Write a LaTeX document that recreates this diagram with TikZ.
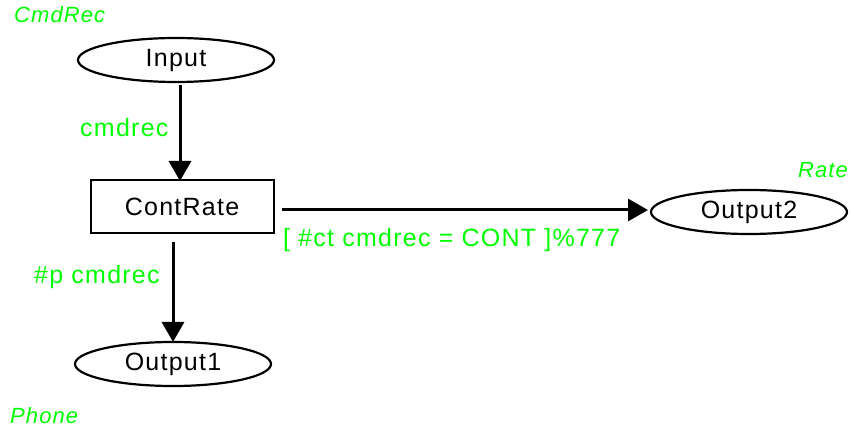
\documentclass[tikz,border=0pt]{standalone}
\usepackage{fontspec}
\setmainfont{Liberation Sans}[LetterSpace=5]
\usetikzlibrary{arrows.meta,shapes.geometric}
\definecolor{lbl}{RGB}{0,255,0}
\begin{document}
\begin{tikzpicture}[x=1pt,y=-1pt,
  place/.style={ellipse,draw,line width=2.2pt,minimum width=196pt,minimum height=44pt,inner sep=0pt,font=\fontsize{25}{28}\selectfont},
  trans/.style={rectangle,draw,line width=2pt,minimum width=183pt,minimum height=53pt,inner sep=0pt,font=\fontsize{25}{28}\selectfont},
  arc/.style={line width=3pt,-{Triangle[length=20pt,width=22pt]}},
  green/.style={text=lbl,font=\fontsize{25}{28}\selectfont,inner sep=0pt},
  ital/.style={text=lbl,font=\fontsize{22}{25}\selectfont\itshape,inner sep=0pt}]
\useasboundingbox (0,0) rectangle (854,430);
\node[place] (input) at (176,60) {Input};
\node[trans] (cont) at (182,207) {ContRate};
\node[place] (out2) at (749,212) {Output2};
\node[place] (out1) at (173,364) {Output1};
\node[ital,anchor=west] (cmdrecname) at (14,15) {CmdRec};
\node[ital,anchor=east] (ratename) at (848,170) {Rate};
\node[ital,anchor=west] (phonename) at (10,416) {Phone};
\coordinate (a1s) at (180,85);
\coordinate (a1e) at (180,181);
\coordinate (a2s) at (282,210);
\coordinate (a2e) at (648,210);
\coordinate (a3s) at (173,242);
\coordinate (a3e) at (173,342);
\draw[arc] (a1s) -- (a1e);
\draw[arc] (a2s) -- (a2e);
\draw[arc] (a3s) -- (a3e);
\node[green,anchor=west] (l1) at (80,128) {cmdrec};
\node[green,anchor=west] (l2) at (283,240) {[ \#ct cmdrec = CONT ]\%777};
\node[green,anchor=west] (l3) at (34,277) {\#p cmdrec};
\end{tikzpicture}
\end{document}
